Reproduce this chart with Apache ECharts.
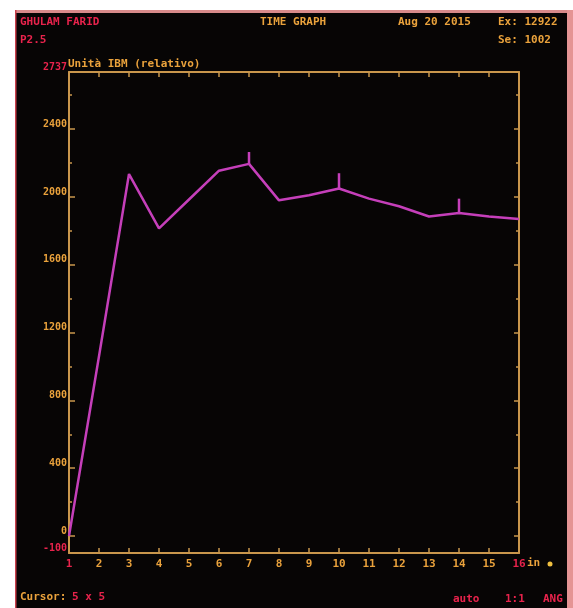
<!DOCTYPE html>
<html>
<head>
<meta charset="utf-8">
<script src="https://cdn.jsdelivr.net/npm/echarts@6/dist/echarts.min.js"></script>
<style>
  html, body { margin: 0; padding: 0; background: #ffffff; }
  #chart { width: 573px; height: 608px; }
</style>
</head>
<body>
<div id="chart"></div>
<script>
// Sample positions along the time axis and the measured relative IBM units
const sampleX = [1, 2, 3, 4, 5, 6, 7, 8, 9, 10, 11, 12, 13, 14, 15, 16];
const intensity = [0, 1060, 2135, 1815, 1985, 2155, 2195, 1980, 2010, 2050, 1990, 1945, 1885, 1905, 1885, 1870];

// Short vertical flags raised above the trace at a few samples
const flagX = [7, 10, 14];
const flagTop = [2265, 2140, 1990];

// Vertical axis range and tick values
const yMin = -100;
const yMax = 2737;
const yLabelValues = [-100, 0, 400, 800, 1200, 1600, 2000, 2400, 2737];
const yMajorTicks = [0, 400, 800, 1200, 1600, 2000, 2400];
const yMinorTicks = [200, 600, 1000, 1400, 1800, 2200, 2600];

const ORANGE = '#eaa23c';
const AXIS = '#c9964c';
const RED = '#e8234c';
const TRACE = '#c53fba';
const MONO = '"DejaVu Sans Mono", "Liberation Mono", monospace';

const lineData = sampleX.map((x, i) => [x, intensity[i]]);
const flagData = flagX.map((x, i) => [x, intensity[sampleX.indexOf(x)], flagTop[i]]);

const chart = echarts.init(document.getElementById('chart'), null, { renderer: 'canvas' });

function yAxisBase(extra) {
  return Object.assign({
    type: 'value',
    min: yMin,
    max: yMax,
    splitLine: { show: false },
    axisLine: { show: true, onZero: false, lineStyle: { color: AXIS, width: 2 } },
    axisLabel: { show: false },
    axisTick: { show: false }
  }, extra);
}

chart.setOption({
  backgroundColor: '#070505',
  animation: false,
  textStyle: { fontFamily: MONO },
  grid: { left: 69, right: 54, top: 72, bottom: 55, containLabel: false },
  xAxis: [
    {
      type: 'value',
      min: 1,
      max: 16,
      interval: 1,
      position: 'bottom',
      splitLine: { show: false },
      axisLine: { show: true, onZero: false, lineStyle: { color: AXIS, width: 2 } },
      axisTick: { show: true, inside: true, length: 5, lineStyle: { color: AXIS, width: 1.5 } },
      axisLabel: {
        margin: 6,
        fontFamily: MONO,
        fontSize: 11,
        fontWeight: 'bold',
        formatter: v => (v === 1 || v === 16) ? '{r|' + v + '}' : '{o|' + v + '}',
        rich: {
          r: { color: RED, fontFamily: MONO, fontSize: 11, fontWeight: 'bold' },
          o: { color: ORANGE, fontFamily: MONO, fontSize: 11, fontWeight: 'bold' }
        }
      }
    },
    {
      type: 'value',
      min: 1,
      max: 16,
      interval: 1,
      position: 'top',
      splitLine: { show: false },
      axisLine: { show: true, onZero: false, lineStyle: { color: AXIS, width: 2 } },
      axisTick: { show: true, inside: true, length: 5, lineStyle: { color: AXIS, width: 1.5 } },
      axisLabel: { show: false }
    }
  ],
  yAxis: [
    yAxisBase({
      position: 'left',
      axisTick: {
        show: true, inside: true, length: 6,
        customValues: yMajorTicks,
        lineStyle: { color: AXIS, width: 1.5 }
      },
      axisLabel: {
        show: true,
        margin: 2,
        verticalAlign: 'bottom',
        customValues: yLabelValues,
        fontFamily: MONO,
        fontSize: 10,
        formatter: v => (v === yMin || v === yMax) ? '{r|' + v + '}' : '{o|' + v + '}',
        rich: {
          r: { color: RED, fontFamily: MONO, fontSize: 10, fontWeight: 'bold' },
          o: { color: ORANGE, fontFamily: MONO, fontSize: 10, fontWeight: 'bold' }
        }
      }
    }),
    yAxisBase({
      position: 'left',
      axisLine: { show: false },
      axisTick: {
        show: true, inside: true, length: 3,
        customValues: yMinorTicks,
        lineStyle: { color: AXIS, width: 1.5 }
      }
    }),
    yAxisBase({
      position: 'right',
      axisTick: {
        show: true, inside: true, length: 5,
        customValues: yMajorTicks,
        lineStyle: { color: AXIS, width: 1.5 }
      }
    }),
    yAxisBase({
      position: 'right',
      axisLine: { show: false },
      axisTick: {
        show: true, inside: true, length: 3,
        customValues: yMinorTicks,
        lineStyle: { color: AXIS, width: 1.5 }
      }
    })
  ],
  series: [
    {
      type: 'line',
      xAxisIndex: 0,
      yAxisIndex: 0,
      data: lineData,
      symbol: 'none',
      lineStyle: { color: TRACE, width: 2.5 },
      z: 5
    },
    {
      type: 'custom',
      xAxisIndex: 0,
      yAxisIndex: 0,
      data: flagData,
      renderItem: (params, api) => {
        const base = api.coord([api.value(0), api.value(1)]);
        const top = api.coord([api.value(0), api.value(2)]);
        return {
          type: 'line',
          shape: { x1: base[0], y1: base[1], x2: top[0], y2: top[1] },
          style: { stroke: TRACE, lineWidth: 2.5 }
        };
      },
      z: 6
    }
  ],
  graphic: [
    // Screen border
    { type: 'rect', shape: { x: 0, y: 0, width: 573, height: 10 }, style: { fill: '#ffffff' } },
    { type: 'rect', shape: { x: 0, y: 10, width: 573, height: 3 }, style: { fill: '#d88a8a' } },
    { type: 'rect', shape: { x: 0, y: 0, width: 15, height: 608 }, style: { fill: '#ffffff' } },
    { type: 'rect', shape: { x: 15, y: 10, width: 1.5, height: 598 }, style: { fill: '#c8404c' } },
    { type: 'rect', shape: { x: 567, y: 10, width: 6, height: 598 }, style: { fill: '#e59494' } },

    // Header
    { type: 'text', left: 20, top: 17, style: { text: 'GHULAM FARID', fill: RED, font: 'bold 11px ' + MONO } },
    { type: 'text', left: 20, top: 35, style: { text: 'P2.5', fill: RED, font: 'bold 11px ' + MONO } },
    { type: 'text', left: 260, top: 17, style: { text: 'TIME GRAPH', fill: ORANGE, font: 'bold 11px ' + MONO } },
    { type: 'text', left: 398, top: 17, style: { text: 'Aug 20 2015', fill: ORANGE, font: 'bold 11px ' + MONO } },
    { type: 'text', left: 498, top: 17, style: { text: 'Ex: 12922', fill: ORANGE, font: 'bold 11px ' + MONO } },
    { type: 'text', left: 498, top: 35, style: { text: 'Se: 1002', fill: ORANGE, font: 'bold 11px ' + MONO } },

    // Vertical axis title, on the same line as the top value
    { type: 'text', left: 68, top: 59, style: { text: 'Unità IBM (relativo)', fill: ORANGE, font: 'bold 11px ' + MONO } },

    // Unit marker after the last time label
    { type: 'text', left: 527, top: 558, style: { text: 'in', fill: ORANGE, font: 'bold 11px ' + MONO } },
    { type: 'circle', shape: { cx: 550, cy: 564, r: 2.5 }, style: { fill: '#f0c040' } },

    // Footer
    { type: 'text', left: 20, top: 592, style: { text: 'Cursor:', fill: ORANGE, font: 'bold 11px ' + MONO } },
    { type: 'text', left: 72, top: 592, style: { text: '5 x 5', fill: RED, font: 'bold 11px ' + MONO } },
    { type: 'text', left: 453, top: 594, style: { text: 'auto', fill: RED, font: 'bold 11px ' + MONO } },
    { type: 'text', left: 505, top: 594, style: { text: '1:1', fill: RED, font: 'bold 11px ' + MONO } },
    { type: 'text', left: 543, top: 594, style: { text: 'ANG', fill: RED, font: 'bold 11px ' + MONO } }
  ]
});
</script>
</body>
</html>
